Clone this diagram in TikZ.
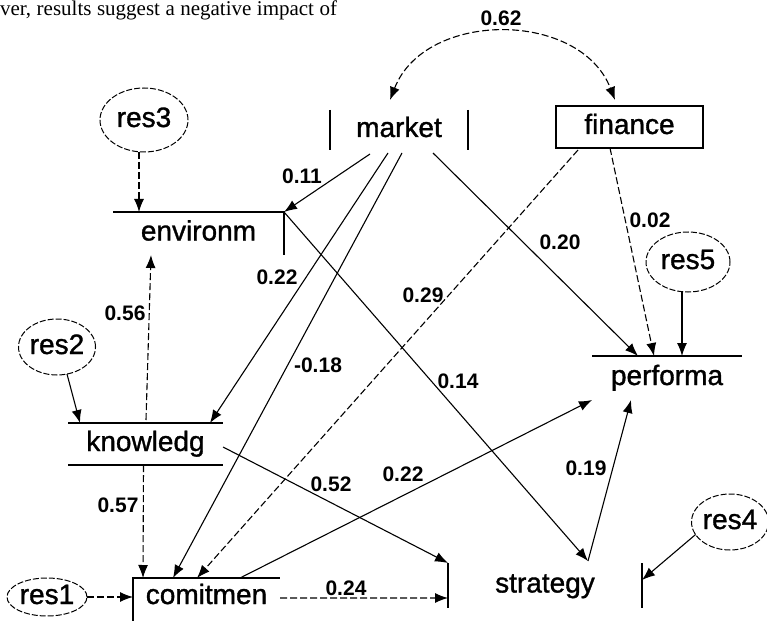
\documentclass[tikz,border=0pt]{standalone}
\usepackage{fontspec}
\setmainfont{Liberation Sans}
\newfontfamily\paperserif{Liberation Serif}
\newfontfamily\heavysans{Liberation Sans}[FakeBold=1.2]
\usetikzlibrary{arrows.meta,shapes.geometric,calc}
\begin{document}
\begin{tikzpicture}[x=1bp,y=-1bp,
  every node/.style={inner sep=0pt, outer sep=0pt},
  varnode/.style={font=\heavysans\fontsize{28bp}{30bp}\selectfont, text height=14bp, text depth=0bp},
  resnode/.style={ellipse, draw, line width=1bp, dash pattern=on 6bp off 2bp,
     font=\heavysans\fontsize{28bp}{30bp}\selectfont, text height=14bp, text depth=0bp},
  lbl/.style={font=\bfseries\fontsize{21bp}{23bp}\selectfont},
  boxline/.style={line width=1.4bp},
  conn/.style={line width=1.1bp, -{Latex[length=13bp,width=10bp]}},
  dconn/.style={conn, dash pattern=on 7bp off 3bp},
  bothconn/.style={line width=1.1bp, dash pattern=on 7bp off 3bp,
     {Latex[length=13bp,width=10bp]}-{Latex[length=13bp,width=10bp]}}]
\useasboundingbox (0,0) rectangle (767,621);

% cut-off line of the paper text
\node[anchor=base west, font=\paperserif\fontsize{21bp}{23bp}\selectfont] (toptext) at (0,16)
  {\makebox[337bp][s]{ver, results suggest a negative impact of}};

% variables
\node[varnode, minimum width=138bp, minimum height=40bp] (market) at (399,130) {market};
\node[varnode, draw, boxline, minimum width=147bp, minimum height=42bp] (finance) at (629.5,127) {finance};
\node[varnode, minimum width=171bp, minimum height=43bp] (environm) at (198.5,233.5) {environm};
\node[varnode, minimum width=155bp, minimum height=42bp] (knowledg) at (145.5,444) {knowledg};
\node[varnode, minimum width=147bp, minimum height=38bp] (comitmen) at (206.5,597) {comitmen};
\node[varnode, minimum width=194bp, minimum height=45bp] (strategy) at (545,585.5) {strategy};
\node[varnode, minimum width=150bp, minimum height=44bp] (performa) at (667,378) {performa};

% residuals
\node[resnode, minimum width=88bp, minimum height=64bp] (res3) at (144,120) {res3};
\node[resnode, minimum width=74bp, minimum height=56bp] (res2) at (57,347) {res2};
\node[resnode, minimum width=80bp, minimum height=38bp] (res1) at (47,597) {res1};
\node[resnode, minimum width=84bp, minimum height=60bp] (res5) at (688,262) {res5};
\node[resnode, minimum width=76bp, minimum height=56bp] (res4) at (730,522) {res4};

% partial box outlines
\draw[boxline] (market.north west) -- (market.south west);
\draw[boxline] (market.north east) -- (market.south east);
\draw[boxline] (environm.north west) -- (environm.north east) -- (environm.south east);
\draw[boxline] (knowledg.north west) -- (knowledg.north east);
\draw[boxline] (knowledg.south west) -- (knowledg.south east);
\draw[boxline] ($(comitmen.south west)+(0,12)$) -- (comitmen.north west) -- (comitmen.north east);
\draw[boxline] (strategy.north west) -- (strategy.south west);
\draw[boxline] (strategy.north east) -- (strategy.south east);
\draw[boxline] (performa.north west) -- (performa.north east);

% connectors
\draw[bothconn] ($(market.north)+(-9,-10)$) .. controls (425,10) and (580,10) .. ($(finance.north)+(-14.5,-6)$);
\draw[dconn] ($(res3.south)+(-5,0)$) -- ($(environm.north)+(-59.5,0)$);
\draw[conn] ($(market.south)+(-29,4)$) -- (environm.north east);
\draw[conn] (environm.north east) -- ($(strategy.north)+(43,-2)$);
\draw[dconn] ($(knowledg.north)+(0.5,-3)$) -- ($(environm.south)+(-47.5,0)$);
\draw[conn] ($(market.south)+(-11,3)$) -- ($(knowledg.north)+(64.5,0)$);
\draw[conn] ($(market.south)+(3,3)$) -- ($(comitmen.north)+(-33.5,0)$);
\draw[dconn] ($(finance.south)+(-51.5,2)$) -- ($(comitmen.north)+(-9.5,0)$);
\draw[conn] ($(market.south)+(34,3)$) -- ($(performa.north)+(-29,0)$);
\draw[dconn] ($(finance.south)+(-19.5,0)$) -- ($(performa.north)+(-13,0)$);
\draw[conn] ($(res5.south)+(-6,0)$) -- ($(performa.north)+(15,0)$);
\draw[conn] ($(res2.south)+(10,-1)$) -- ($(knowledg.north)+(-65.5,0)$);
\draw[dconn] ($(knowledg.south)+(-2,0)$) -- ($(comitmen.north)+(-63.5,0)$);
\draw[conn] ($(knowledg.east)+(0,3)$) -- (strategy.north west);
\draw[dconn] (res1.east) -- (comitmen.west);
\draw[dconn] ($(comitmen.east)+(0,1)$) -- ($(strategy.west)+(0,12.5)$);
\draw[conn] ($(comitmen.north)+(33.5,0)$) -- (performa.south west);
\draw[conn] ($(strategy.north)+(43,-2)$) -- ($(performa.south)+(-36,0)$);
\draw[conn] (res4.200) -- ($(strategy.east)+(0,-5.5)$);

% coefficients
\node[lbl] (l062) at (501,18) {0.62};
\node[lbl] (l011) at (302,176) {0.11};
\node[lbl] (l022a) at (277,277) {0.22};
\node[lbl] (l018) at (318,365) {-0.18};
\node[lbl] (l029) at (423,295) {0.29};
\node[lbl] (l014) at (458,381) {0.14};
\node[lbl] (l020) at (560,242) {0.20};
\node[lbl] (l002) at (650,220) {0.02};
\node[lbl] (l056) at (125,313) {0.56};
\node[lbl] (l057) at (118,505) {0.57};
\node[lbl] (l052) at (331,484) {0.52};
\node[lbl] (l022b) at (403,474) {0.22};
\node[lbl] (l019) at (586,468) {0.19};
\node[lbl] (l024) at (346,588) {0.24};
\end{tikzpicture}
\end{document}
